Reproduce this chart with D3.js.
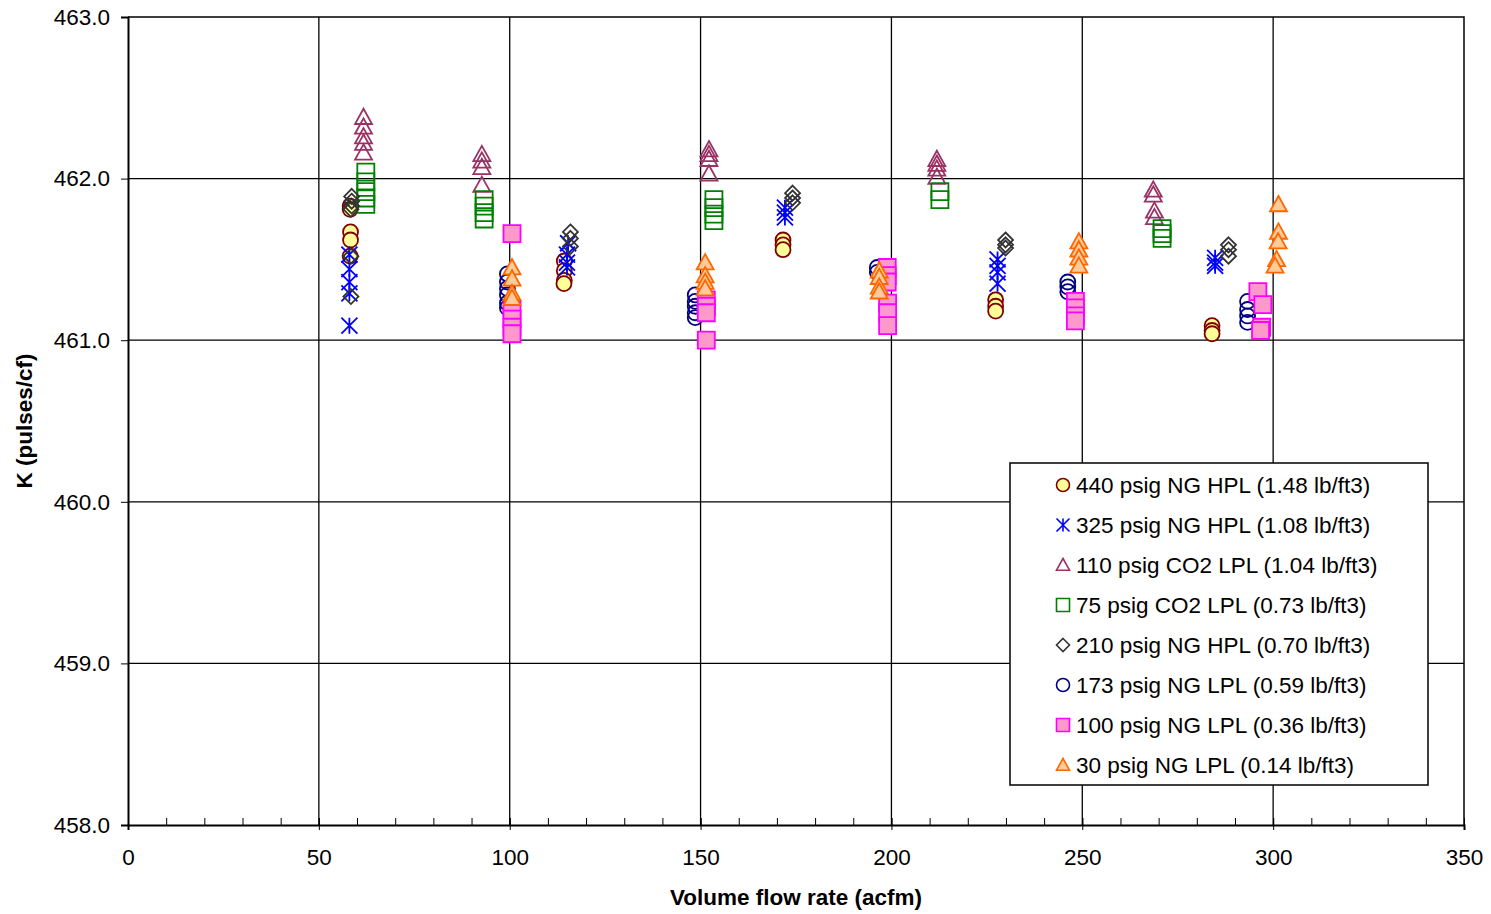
<!DOCTYPE html>
<html>
<head>
<meta charset="utf-8">
<script src="https://cdn.jsdelivr.net/npm/d3@7"></script>
<style>
  body { margin: 0; background: #fff; }
  text { font-family: "Liberation Sans", Arial, sans-serif; }
</style>
</head>
<body>
<div id="chart-area"></div>
<script>
// series labels in legend order
const seriesNames = [
    "440 psig NG HPL (1.48 lb/ft3)",
    "325 psig NG HPL (1.08 lb/ft3)",
    "110 psig CO2 LPL (1.04 lb/ft3)",
    "75 psig CO2 LPL (0.73 lb/ft3)",
    "210 psig NG HPL (0.70 lb/ft3)",
    "173 psig NG LPL (0.59 lb/ft3)",
    "100 psig NG LPL (0.36 lb/ft3)",
    "30 psig NG LPL (0.14 lb/ft3)"
];

// [flow acfm, K pulses/cf]
const ng440 = [[58.2, 461.83], [58.2, 461.81], [58.3, 461.67], [58.3, 461.62], [58.2, 461.52],
    [114.3, 461.49], [114.3, 461.43], [114.3, 461.37], [114.2, 461.35],
    [171.6, 461.62], [171.6, 461.59], [171.6, 461.56],
    [227.3, 461.25], [227.3, 461.21], [227.3, 461.18],
    [284.0, 461.09], [284.0, 461.06], [284.0, 461.04]];
const ng325 = [[58.0, 461.53], [58.0, 461.44], [58.0, 461.36], [58.0, 461.29], [58.0, 461.09],
    [115.3, 461.60], [115.0, 461.53], [115.0, 461.48], [115.0, 461.45],
    [172.1, 461.82], [172.1, 461.79], [172.1, 461.76],
    [227.8, 461.50], [227.8, 461.46], [227.8, 461.42], [227.8, 461.35],
    [284.8, 461.51], [284.8, 461.48], [284.8, 461.46]];
const co2110 = [[61.7, 462.38], [61.7, 462.32], [61.7, 462.26], [61.7, 462.22], [61.7, 462.16],
    [92.7, 462.15], [92.7, 462.11], [92.7, 462.07], [92.7, 461.96],
    [152.2, 462.18], [152.2, 462.15], [152.2, 462.12], [152.2, 462.03],
    [211.9, 462.12], [211.9, 462.09], [211.9, 462.06], [211.9, 462.01],
    [268.6, 461.93], [268.6, 461.90], [268.9, 461.80], [268.9, 461.76]];
const co275 = [[62.3, 462.04], [62.3, 461.98], [62.3, 461.92], [62.3, 461.88], [62.3, 461.84],
    [93.3, 461.87], [93.3, 461.83], [93.3, 461.79], [93.3, 461.75],
    [153.5, 461.87], [153.5, 461.82], [153.5, 461.78], [153.5, 461.74],
    [212.7, 461.92], [212.7, 461.87],
    [270.9, 461.69], [270.9, 461.66], [270.9, 461.63]];
const ng210 = [[58.6, 461.89], [58.6, 461.86], [58.6, 461.83], [58.4, 461.81], [58.4, 461.52], [58.4, 461.27],
    [115.9, 461.67], [115.9, 461.63], [115.9, 461.58],
    [174.1, 461.91], [174.1, 461.88], [174.1, 461.85],
    [229.9, 461.62], [229.9, 461.59], [229.9, 461.57],
    [288.3, 461.59], [288.3, 461.56], [288.3, 461.52]];
const ng173 = [[99.4, 461.41], [99.4, 461.36], [99.4, 461.32], [99.4, 461.28], [99.4, 461.23], [99.4, 461.20],
    [148.6, 461.28], [148.6, 461.24], [148.6, 461.21], [148.6, 461.17], [148.6, 461.14],
    [196.3, 461.45], [196.3, 461.42],
    [246.2, 461.36], [246.2, 461.33], [246.2, 461.30],
    [293.3, 461.24], [293.3, 461.19], [293.3, 461.15], [293.3, 461.11]];
const ng100 = [[100.6, 461.66], [100.6, 461.19], [100.6, 461.13], [100.6, 461.08], [100.6, 461.04],
    [151.5, 461.25], [151.5, 461.21], [151.5, 461.17], [151.5, 461.00],
    [198.9, 461.45], [198.9, 461.40], [198.9, 461.36], [199.0, 461.23], [199.0, 461.17], [199.0, 461.09],
    [248.2, 461.24], [248.2, 461.20], [248.2, 461.15], [248.2, 461.12],
    [296.0, 461.30], [297.3, 461.22], [297.0, 461.08], [296.7, 461.06]];
const ng30 = [[100.6, 461.45], [100.6, 461.38], [100.6, 461.29], [100.6, 461.26],
    [151.2, 461.48], [151.2, 461.40], [151.2, 461.36], [151.2, 461.32],
    [196.8, 461.43], [196.8, 461.39], [196.8, 461.33], [196.8, 461.30],
    [249.1, 461.61], [249.1, 461.56], [249.1, 461.51], [249.1, 461.46],
    [301.4, 461.84], [301.4, 461.67], [301.3, 461.61], [300.9, 461.50], [300.5, 461.46]];

const xTicks = [0, 50, 100, 150, 200, 250, 300, 350];
const yTicks = [458, 459, 460, 461, 462, 463];

const seriesData = [ng440, ng325, co2110, co275, ng210, ng173, ng100, ng30];
const seriesStyle = [
    { shape: "circle", fill: "#FFFF99", stroke: "#800000" },
    { shape: "star", fill: "none", stroke: "#0000FF" },
    { shape: "triangle", fill: "none", stroke: "#993366" },
    { shape: "square", fill: "none", stroke: "#008000" },
    { shape: "diamond", fill: "none", stroke: "#333333" },
    { shape: "circle", fill: "none", stroke: "#000080" },
    { shape: "square", fill: "#FF99CC", stroke: "#FF00FF" },
    { shape: "triangle", fill: "#FFCC99", stroke: "#FF6600" }
];

const W = 1491, H = 914;
const margin = { left: 128, right: 27, top: 17, bottom: 89 };
const width = W - margin.left - margin.right;
const height = H - margin.top - margin.bottom;
const fontSize = "22.5px";

const svg = d3.select("#chart-area")
    .append("svg")
    .attr("width", W)
    .attr("height", H);

const g = svg.append("g")
    .attr("transform", `translate(${margin.left}, ${margin.top})`);

const x = d3.scaleLinear().domain([0, 350]).range([0, width]);
const y = d3.scaleLinear().domain([458, 463]).range([height, 0]);

// marker path, s = half size
function markerPath(shape, s) {
    switch (shape) {
        case "circle":
            return `M${-s},0A${s},${s} 0 1,0 ${s},0A${s},${s} 0 1,0 ${-s},0Z`;
        case "square":
            return `M${-s},${-s}H${s}V${s}H${-s}Z`;
        case "diamond":
            return `M0,${-s}L${s},0L0,${s}L${-s},0Z`;
        case "triangle":
            return `M0,${-s}L${s},${s * 0.8}L${-s},${s * 0.8}Z`;
        case "star":
            return `M0,${-s}V${s}M${-s},${-s}L${s},${s}M${s},${-s}L${-s},${s}`;
    }
}
const markerSize = { circle: 7.5, square: 8.5, diamond: 7.5, triangle: 8.5, star: 8 };

// gridlines
g.append("g")
    .selectAll("line")
    .data(xTicks.slice(1, -1))
    .join("line")
    .attr("x1", d => x(d)).attr("x2", d => x(d))
    .attr("y1", 0).attr("y2", height)
    .attr("stroke", "#000").attr("stroke-width", 1.3);

g.append("g")
    .selectAll("line")
    .data(yTicks.slice(1, -1))
    .join("line")
    .attr("x1", 0).attr("x2", width)
    .attr("y1", d => y(d)).attr("y2", d => y(d))
    .attr("stroke", "#000").attr("stroke-width", 1.3);

// top and right border
g.append("path")
    .attr("d", `M0,0H${width}V${height}`)
    .attr("fill", "none")
    .attr("stroke", "#000")
    .attr("stroke-width", 1.5);

// x axis: minor ticks inside, major ticks crossing
const xAxisG = g.append("g")
    .attr("transform", `translate(0, ${height})`);

xAxisG.call(d3.axisBottom(x).tickValues(d3.range(0, 351, 10)).tickSize(-7).tickFormat(""))
    .call(a => a.select(".domain").remove());
xAxisG.append("g")
    .call(d3.axisBottom(x).tickValues(xTicks).tickSize(5).tickFormat(d3.format("d")))
    .call(a => a.select(".domain").attr("stroke-width", 2))
    .call(a => a.selectAll(".tick line").attr("y1", -7))
    .call(a => a.selectAll("text").attr("font-size", fontSize).attr("dy", "0.71em").attr("y", 24)
        .attr("font-family", "Liberation Sans, Arial, sans-serif"));

// y axis
g.append("g")
    .call(d3.axisLeft(y).tickValues(yTicks).tickSize(7).tickFormat(d3.format(".1f")))
    .call(a => a.select(".domain").attr("stroke-width", 2))
    .call(a => a.selectAll(".tick line").attr("x1", 1))
    .call(a => a.selectAll("text").attr("font-size", fontSize).attr("x", -18)
        .attr("font-family", "Liberation Sans, Arial, sans-serif"));

// data points, later series drawn on top
seriesData.forEach((pts, i) => {
    const st = seriesStyle[i];
    g.append("g")
        .selectAll("path")
        .data(pts)
        .join("path")
        .attr("transform", d => `translate(${x(d[0])}, ${y(d[1])})`)
        .attr("d", markerPath(st.shape, markerSize[st.shape]))
        .attr("fill", st.fill)
        .attr("stroke", st.stroke)
        .attr("stroke-width", 1.8);
});

// axis titles
svg.append("text")
    .attr("x", margin.left + width / 2)
    .attr("y", 905)
    .attr("text-anchor", "middle")
    .attr("font-size", fontSize)
    .attr("font-weight", "bold")
    .text("Volume flow rate (acfm)");

svg.append("text")
    .attr("transform", `translate(32, ${margin.top + height / 2}) rotate(-90)`)
    .attr("text-anchor", "middle")
    .attr("font-size", fontSize)
    .attr("font-weight", "bold")
    .text("K (pulses/cf)");

// legend
const legend = svg.append("g")
    .attr("transform", "translate(1010, 463)");

legend.append("rect")
    .attr("width", 418)
    .attr("height", 322)
    .attr("fill", "#fff")
    .attr("stroke", "#000")
    .attr("stroke-width", 1.5);

seriesNames.forEach((name, i) => {
    const st = seriesStyle[i];
    const row = legend.append("g")
        .attr("transform", `translate(0, ${22 + i * 40})`);
    row.append("path")
        .attr("transform", "translate(53, 0)")
        .attr("d", markerPath(st.shape, 6.5))
        .attr("fill", st.fill)
        .attr("stroke", st.stroke)
        .attr("stroke-width", 1.6);
    row.append("text")
        .attr("x", 66)
        .attr("y", 8)
        .attr("font-size", fontSize)
        .text(name);
});
</script>
</body>
</html>
